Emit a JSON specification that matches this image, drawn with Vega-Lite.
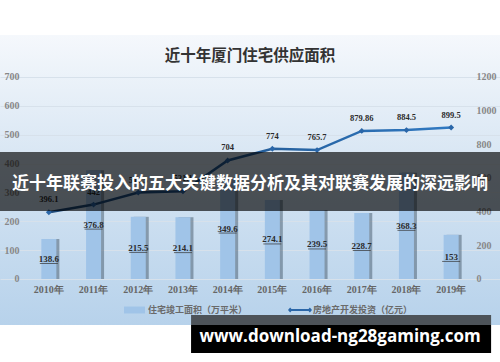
{
  "$schema": "https://vega.github.io/schema/vega-lite/v6.json",
  "width": 500,
  "height": 290,
  "autosize": {"type": "none"},
  "padding": {"top": 35, "bottom": 37, "left": 0, "right": 0},
  "background": "#ffffff",
  "title": {"text": "近十年厦门住宅供应面积", "font": "Noto Sans CJK SC", "fontSize": 15.5, "fontWeight": "bold", "color": "#333333", "offset": -29, "frame": "group", "anchor": "middle"},
  "view": {"stroke": null, "fill": {"gradient": "linear", "x1": 0, "y1": 0, "x2": 0, "y2": 1, "stops": [{"offset": 0, "color": "#f5f8fc"}, {"offset": 0.5, "color": "#d3e3f2"}, {"offset": 1, "color": "#b7d2eb"}]}},
  "data": {"values": [
    {"year": "2010年", "bar": 138.6, "line": 396.1},
    {"year": "2011年", "bar": 376.8, "line": 442},
    {"year": "2012年", "bar": 215.5, "line": 513.5},
    {"year": "2013年", "bar": 214.1, "line": 521.1},
    {"year": "2014年", "bar": 349.6, "line": 704},
    {"year": "2015年", "bar": 274.1, "line": 774},
    {"year": "2016年", "bar": 239.5, "line": 765.7},
    {"year": "2017年", "bar": 228.7, "line": 879.86},
    {"year": "2018年", "bar": 368.3, "line": 884.5},
    {"year": "2019年", "bar": 153, "line": 899.5}
  ]},
  "layer": [
    {
      "mark": {"type": "bar", "color": "#4f6274", "opacity": 0.55, "xOffset": 3},
      "encoding": {
        "x": {"field": "year", "type": "nominal", "title": null},
        "y": {"field": "bar", "type": "quantitative", "scale": {"domain": [-159.4, 845.5], "nice": false, "zero": false}, "axis": null},
        "y2": {"datum": 0}
      }
    },
    {
      "mark": {"type": "bar"},
      "encoding": {
        "x": {"field": "year", "type": "nominal", "title": null},
        "y": {"field": "bar", "type": "quantitative", "scale": {"domain": [-159.4, 845.5], "nice": false, "zero": false},
          "axis": {"orient": "left", "values": [0, 100, 200, 300, 400, 500, 600, 700], "grid": true, "gridColor": "#d7e1eb", "domain": false, "ticks": false, "offset": -25, "labelPadding": 6, "labelFont": "Liberation Serif", "labelFontWeight": "bold", "labelFontSize": 10, "labelColor": "#888888", "title": null}},
        "y2": {"datum": 0},
        "fill": {"datum": "住宅竣工面积（万平米）", "type": "nominal", "scale": {"range": ["#a0c4e8"]},
          "legend": {"orient": "none", "legendX": 124, "legendY": 264.5, "title": null, "padding": 0, "symbolType": "M-1,-0.33H1V0.33H-1Z", "symbolSize": 441, "symbolStrokeWidth": 0, "labelOffset": 3, "labelFont": "Noto Sans CJK SC", "labelFontSize": 9, "labelFontWeight": "bold", "labelColor": "#6a6a6a"}}
      }
    },
    {
      "mark": {"type": "text", "font": "Liberation Serif", "fontWeight": "bold", "fontSize": 9, "color": "#2b2b2b", "baseline": "middle"},
      "encoding": {
        "x": {"field": "year", "type": "nominal", "title": null},
        "y": {"field": "bar", "type": "quantitative", "scale": {"domain": [-318.8, 1691], "nice": false, "zero": false}, "axis": null},
        "text": {"field": "bar", "type": "quantitative"}
      }
    },
    {
      "mark": {"type": "tick", "color": "#333333", "size": 18, "thickness": 1, "yOffset": 4.5},
      "encoding": {
        "x": {"field": "year", "type": "nominal", "title": null},
        "y": {"field": "bar", "type": "quantitative", "scale": {"domain": [-318.8, 1691], "nice": false, "zero": false}, "axis": null}
      }
    },
    {
      "mark": {"type": "line", "strokeWidth": 2.5, "stroke": {"gradient": "linear", "x1": 0, "y1": 0, "x2": 1, "y2": 0, "stops": [{"offset": 0, "color": "#1d4775"}, {"offset": 0.5, "color": "#245d99"}, {"offset": 1, "color": "#3079c2"}]}},
      "encoding": {
        "x": {"field": "year", "type": "nominal", "title": null},
        "y": {"field": "line", "type": "quantitative", "scale": {"domain": [-273.3, 1449.5], "nice": false, "zero": false},
          "axis": {"orient": "right", "values": [0, 200, 400, 600, 800, 1000, 1200], "format": "d", "grid": false, "domain": false, "ticks": false, "offset": -30, "labelPadding": 6, "labelFont": "Liberation Serif", "labelFontWeight": "bold", "labelFontSize": 10, "labelColor": "#888888", "title": null}}
      }
    },
    {
      "mark": {"type": "point", "shape": "diamond", "filled": true, "size": 35, "opacity": 1},
      "encoding": {
        "x": {"field": "year", "type": "nominal", "title": null},
        "y": {"field": "line", "type": "quantitative", "scale": {"domain": [-273.3, 1449.5], "nice": false, "zero": false}, "axis": null},
        "color": {"datum": "房地产开发投资（亿元）", "type": "nominal", "scale": {"range": ["#2a66a8"]},
          "legend": {"orient": "none", "legendX": 288, "legendY": 263, "title": null, "padding": 0, "symbolType": "M-1,0L-0.82,-0.2L-0.64,0L-0.82,0.2Z M-0.82,-0.08H0.82V0.08H-0.82Z M0.64,0L0.82,-0.2L1,0L0.82,0.2Z", "symbolSize": 576, "symbolStrokeWidth": 0, "symbolOpacity": 1, "labelOffset": 1, "labelFont": "Noto Sans CJK SC", "labelFontSize": 9, "labelFontWeight": "bold", "labelColor": "#6a6a6a"}}
      }
    },
    {
      "mark": {"type": "text", "font": "Liberation Serif", "fontWeight": "bold", "fontSize": 8.5, "color": "#2b2b2b", "baseline": "middle", "dy": -13},
      "encoding": {
        "x": {"field": "year", "type": "nominal", "title": null},
        "y": {"field": "line", "type": "quantitative", "scale": {"domain": [-273.3, 1449.5], "nice": false, "zero": false}, "axis": null},
        "text": {"field": "line", "type": "quantitative"}
      }
    },
    {
      "data": {"values": [{"banner": "近十年联赛投入的五大关键数据分析及其对联赛发展的深远影响"}]},
      "mark": {"type": "rect", "color": "#000000", "opacity": 0.65},
      "encoding": {
        "y": {"datum": 440, "type": "quantitative", "scale": {"domain": [-159.4, 845.5], "nice": false, "zero": false}, "axis": null},
        "y2": {"datum": 235.6}
      }
    },
    {
      "data": {"values": [{"banner": "近十年联赛投入的五大关键数据分析及其对联赛发展的深远影响"}]},
      "mark": {"type": "text", "font": "Noto Sans CJK SC", "fontWeight": "bold", "fontSize": 17, "color": "#ffffff", "baseline": "middle", "align": "center"},
      "encoding": {
        "y": {"datum": 329, "type": "quantitative", "scale": {"domain": [-159.4, 845.5], "nice": false, "zero": false}, "axis": null},
        "text": {"field": "banner", "type": "nominal"}
      }
    },
    {
      "data": {"values": [{"site": "www.download-ng28gaming.com"}]},
      "mark": {"type": "rect", "color": "#4d5359", "opacity": 1},
      "encoding": {
        "x": {"datum": "2013年", "type": "nominal", "bandPosition": 1.04},
        "x2": {"datum": "2019年", "bandPosition": 3.16},
        "y": {"datum": -124.7, "type": "quantitative", "scale": {"domain": [-159.4, 845.5], "nice": false, "zero": false}, "axis": null},
        "y2": {"datum": -159.4}
      }
    },
    {
      "data": {"values": [{"site": "www.download-ng28gaming.com"}]},
      "mark": {"type": "rect", "color": "#000000", "opacity": 1},
      "encoding": {
        "x": {"datum": "2013年", "type": "nominal", "bandPosition": 1.04},
        "x2": {"datum": "2019年", "bandPosition": 3.16},
        "y": {"datum": -159.4, "type": "quantitative", "scale": {"domain": [-159.4, 845.5], "nice": false, "zero": false}, "axis": null},
        "y2": {"datum": -256}
      }
    },
    {
      "data": {"values": [{"site": "www.download-ng28gaming.com"}]},
      "mark": {"type": "text", "font": "Open Sans", "fontWeight": "bold", "fontSize": 17, "color": "#ffffff", "baseline": "middle", "align": "center"},
      "encoding": {
        "x": {"datum": "2016年", "type": "nominal", "bandPosition": 2.03},
        "y": {"datum": -201, "type": "quantitative", "scale": {"domain": [-159.4, 845.5], "nice": false, "zero": false}, "axis": null},
        "text": {"field": "site", "type": "nominal"}
      }
    }
  ],
  "resolve": {"scale": {"y": "independent", "fill": "independent", "color": "independent"}, "axis": {"y": "independent"}},
  "config": {
    "font": "Liberation Serif",
    "scale": {"bandPaddingInner": 0.664, "bandPaddingOuter": 0.925},
    "axisBottom": {"offset": -46, "domain": false, "ticks": false, "grid": false, "labelPadding": 5, "labelFont": "Liberation Serif", "labelFontWeight": "bold", "labelFontSize": 10, "labelColor": "#666666", "labelAngle": 0}
  }
}
